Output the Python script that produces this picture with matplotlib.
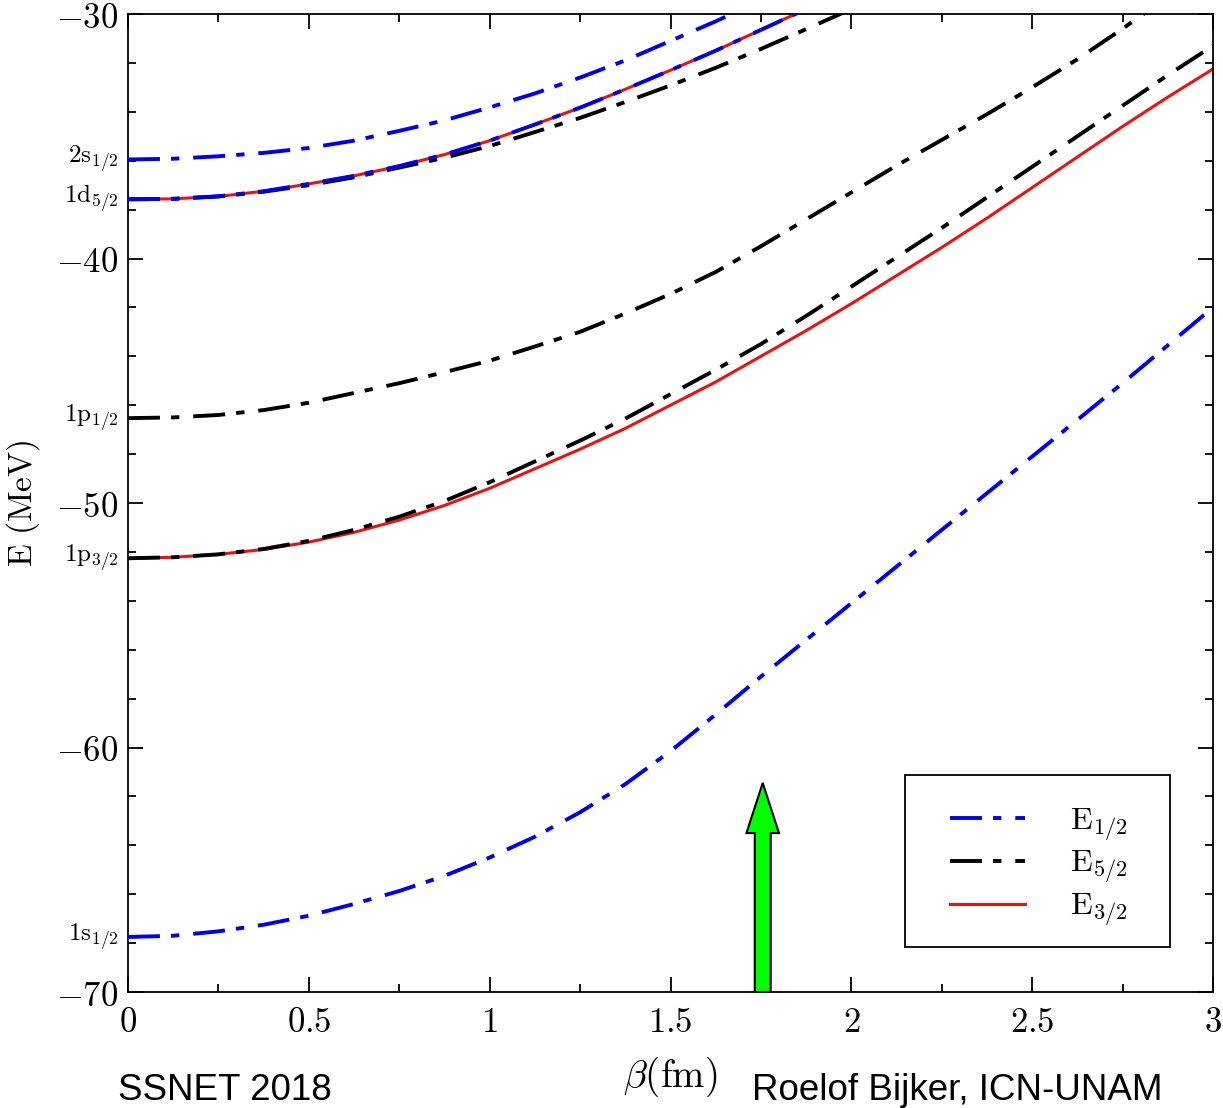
import matplotlib
matplotlib.use("Agg")
import matplotlib.pyplot as plt
from matplotlib.patches import Rectangle
from matplotlib.ticker import MultipleLocator

### Data (beta in fm, energies in MeV)
beta = [0, 0.125, 0.25, 0.375, 0.5, 0.625, 0.75, 0.875, 1.0, 1.125, 1.25, 1.375, 1.5,
        1.625, 1.75, 1.875, 2.0, 2.125, 2.25, 2.375, 2.5, 2.625, 2.75, 2.875, 3.0]

# E_1/2 branches
e12_1s = [-67.75, -67.7, -67.52, -67.25, -66.88, -66.4, -65.87, -65.25, -64.5, -63.65,
          -62.65, -61.5, -60.15, -58.65, -57.1, -55.6, -54.1, -52.6, -51.1, -49.6,
          -48.1, -46.6, -45.1, -43.55, -42.0]
e12_1d = [-37.58, -37.56, -37.46, -37.25, -36.95, -36.62, -36.22, -35.75, -35.18, -34.52,
          -33.83, -33.08, -32.3, -31.5, -30.65, -29.8, -28.95]
e12_2s = [-35.95, -35.92, -35.82, -35.68, -35.48, -35.18, -34.78, -34.35, -33.82, -33.25,
          -32.6, -31.9, -31.1, -30.3, -29.45]

# E_5/2 branches
e52_1p32 = [-52.26, -52.22, -52.1, -51.88, -51.55, -51.1, -50.56, -49.92, -49.15, -48.3,
            -47.45, -46.55, -45.55, -44.55, -43.5, -42.35, -41.15, -39.95, -38.75, -37.5,
            -36.25, -35.0, -33.75, -32.5, -31.3]
e52_1p12 = [-46.53, -46.5, -46.4, -46.2, -45.9, -45.5, -45.1, -44.65, -44.18, -43.6,
            -43.0, -42.25, -41.45, -40.55, -39.5, -38.4, -37.3, -36.2, -35.15, -34.1,
            -33.0, -31.85, -30.6, -29.3, -28.0]
e52_1d = [-37.58, -37.56, -37.46, -37.27, -37.0, -36.68, -36.28, -35.88, -35.4, -34.83,
          -34.25, -33.6, -32.92, -32.2, -31.43, -30.62, -29.8, -29.0]

# E_3/2 branches
e32_1p32 = [-52.26, -52.22, -52.1, -51.9, -51.6, -51.2, -50.7, -50.1, -49.4, -48.6,
            -47.8, -46.95, -46.0, -45.05, -44.0, -42.95, -41.85, -40.7, -39.55, -38.35,
            -37.1, -35.85, -34.6, -33.4, -32.25]
e32_1d = [-37.58, -37.56, -37.46, -37.25, -36.95, -36.62, -36.22, -35.75, -35.18, -34.52,
          -33.83, -33.08, -32.3, -31.5, -30.65, -29.8, -28.95]

# level labels at beta = 0
level_names = [r"$\mathrm{2s}_{1/2}$", r"$\mathrm{1d}_{5/2}$", r"$\mathrm{1p}_{1/2}$",
               r"$\mathrm{1p}_{3/2}$", r"$\mathrm{1s}_{1/2}$"]
level_values = [-35.95, -37.58, -46.53, -52.26, -67.75]

xticks = [0, 0.5, 1, 1.5, 2, 2.5, 3]
xtick_labels = ["0", "0.5", "1", "1.5", "2", "2.5", "3"]
yticks = [-70, -60, -50, -40, -30]


plt.rcParams['mathtext.fontset'] = 'cm'
plt.rcParams['lines.scale_dashes'] = False
plt.rcParams['font.family'] = ['DejaVu Serif']

fig = plt.figure(figsize=(12.23, 11.08), dpi=100)
ax = fig.add_axes([128/1223, 1 - 992/1108, (1213-128)/1223, (992-14)/1108])

dashdot = [23, 8, 6, 10]
red = '#ee1111'
blue = '#0000ee'

# red solid underneath, black dash-dot, blue dash-dot on top
ax.plot(beta, e32_1p32, color=red, lw=2.2, zorder=2, label=r"$\mathrm{E}_{3/2}$")
ax.plot(beta[:len(e32_1d)], e32_1d, color=red, lw=2.2, zorder=2)

ax.plot(beta, e52_1p32, color='black', lw=2.8, dashes=dashdot, zorder=3, label=r"$\mathrm{E}_{5/2}$")
ax.plot(beta, e52_1p12, color='black', lw=2.8, dashes=dashdot, zorder=3)
ax.plot(beta[:len(e52_1d)], e52_1d, color='black', lw=2.8, dashes=dashdot, zorder=3)

ax.plot(beta, e12_1s, color=blue, lw=2.8, dashes=dashdot, zorder=4, label=r"$\mathrm{E}_{1/2}$")
ax.plot(beta[:len(e12_1d)], e12_1d, color=blue, lw=2.8, dashes=dashdot, zorder=4)
ax.plot(beta[:len(e12_2s)], e12_2s, color=blue, lw=2.8, dashes=dashdot, zorder=4)

ax.set_xlim(0, 3)
ax.set_ylim(-70, -30)

# ticks inside on all four sides
ax.set_xticks(xticks)
ax.set_xticklabels(["$%s$" % t for t in xtick_labels])
ax.set_yticks(yticks)
ax.set_yticklabels(["$%d$" % t for t in yticks])
ax.xaxis.set_minor_locator(MultipleLocator(0.25))
ax.yaxis.set_minor_locator(MultipleLocator(2))
ax.tick_params(which='both', direction='in', top=True, right=True, width=1.3, labelsize=25)
ax.tick_params(which='major', length=11)
ax.tick_params(which='minor', length=6)
ax.tick_params(axis='x', pad=9)
ax.tick_params(axis='y', pad=7)
for sp in ax.spines.values():
    sp.set_linewidth(1.3)

# level names beside the left axis
for name, val in zip(level_names, level_values):
    ax.text(-0.008, val, name, ha='right', va='center', fontsize=18,
            transform=ax.get_yaxis_transform())

ax.set_xlabel(r"$\beta\mathrm{(fm)}$", fontsize=28, labelpad=12)
ax.set_ylabel(r"$\mathrm{E\ (MeV)}$", fontsize=24, labelpad=10)

# legend in order E1/2, E5/2, E3/2, frame drawn separately (wider side padding)
handles, labels = ax.get_legend_handles_labels()
order = [2, 1, 0]
leg = ax.legend([handles[i] for i in order], [labels[i] for i in order],
                loc='upper left', bbox_to_anchor=(0.7576, 0.191), borderaxespad=0,
                fontsize=23, handlelength=2.35, handletextpad=1.4, borderpad=0,
                labelspacing=0.17, frameon=False)
leg.set_zorder(6)
ax.add_patch(Rectangle((0.7161, 0.046), 0.2443, 0.1759, transform=ax.transAxes,
                       fc='white', ec='black', lw=1.3, zorder=5.5))

# green arrow marking beta ~ 1.75
ax.arrow(1.755, -70, 0, 8.55, width=0.044, head_width=0.09, head_length=2.05,
         length_includes_head=True, fc='#00ff00', ec='black', lw=1.5, zorder=5)

fig.text(118/1223, 1 - 1090/1108, "SSNET 2018", family='Liberation Sans',
         fontsize=26.5, ha='left', va='center')
fig.text(752/1223, 1 - 1090/1108, "Roelof Bijker, ICN-UNAM", family='Liberation Sans',
         fontsize=26.5, ha='left', va='center')

fig.savefig("out.png", dpi=100)
